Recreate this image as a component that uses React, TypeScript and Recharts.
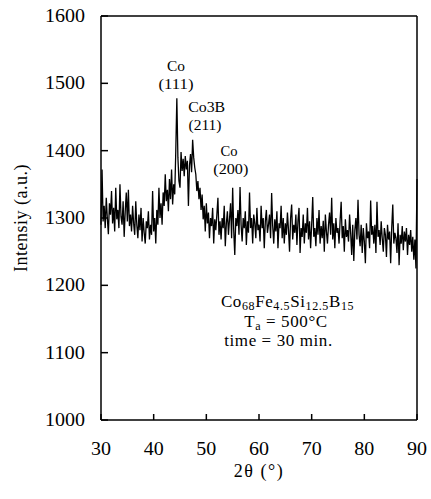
import React from "react";
import { LineChart, Line, XAxis, YAxis, ReferenceLine, ReferenceDot } from "recharts";

// XRD scan: 2θ from 30° to 90°, step 0.2°
const ANGLE_START = 30;
const ANGLE_STEP = 0.2;

const INTENSITY = [
  1290, 1372, 1295, 1318, 1285, // 30
  1330, 1300, 1276, 1322, 1305, // 31
  1340, 1292, 1315, 1280, 1345, // 32
  1298, 1312, 1285, 1350, 1302, // 33
  1290, 1325, 1272, 1310, 1338, // 34
  1295, 1342, 1288, 1305, 1280, // 35
  1318, 1292, 1275, 1325, 1290, // 36
  1270, 1305, 1282, 1315, 1265, // 37
  1300, 1278, 1262, 1295, 1285, // 38
  1310, 1268, 1290, 1275, 1340, // 39
  1280, 1300, 1262, 1312, 1290, // 40
  1345, 1300, 1322, 1290, 1338, // 41
  1318, 1365, 1325, 1342, 1310, // 42
  1358, 1328, 1372, 1320, 1350, // 43
  1335, 1400, 1478, 1390, 1355, // 44
  1345, 1398, 1370, 1388, 1362, // 45
  1392, 1372, 1385, 1318, 1378, // 46
  1395, 1368, 1416, 1390, 1375, // 47
  1365, 1340, 1355, 1328, 1345, // 48
  1312, 1335, 1298, 1318, 1280, // 49
  1322, 1292, 1308, 1270, 1300, // 50
  1288, 1315, 1262, 1298, 1282, // 51
  1305, 1330, 1275, 1295, 1268, // 52
  1300, 1285, 1318, 1258, 1292, // 53
  1310, 1275, 1298, 1322, 1270, // 54
  1345, 1282, 1245, 1300, 1288, // 55
  1312, 1275, 1346, 1290, 1265, // 56
  1300, 1285, 1310, 1260, 1295, // 57
  1278, 1338, 1285, 1300, 1262, // 58
  1305, 1292, 1270, 1315, 1282, // 59
  1290, 1265, 1318, 1285, 1300, // 60
  1255, 1295, 1312, 1278, 1290, // 61
  1305, 1270, 1337, 1288, 1262, // 62
  1298, 1280, 1310, 1255, 1292, // 63
  1285, 1318, 1270, 1300, 1262, // 64
  1292, 1275, 1308, 1282, 1250, // 65
  1300, 1320, 1268, 1290, 1278, // 66
  1305, 1260, 1296, 1315, 1248, // 67
  1285, 1272, 1305, 1262, 1292, // 68
  1278, 1315, 1268, 1295, 1255, // 69
  1290, 1331, 1272, 1285, 1258, // 70
  1300, 1275, 1312, 1262, 1288, // 71
  1270, 1296, 1250, 1305, 1280, // 72
  1262, 1290, 1308, 1275, 1330, // 73
  1268, 1292, 1255, 1300, 1278, // 74
  1285, 1262, 1296, 1324, 1270, // 75
  1288, 1250, 1298, 1272, 1282, // 76
  1265, 1305, 1278, 1245, 1290, // 77
  1236, 1282, 1300, 1268, 1327, // 78
  1275, 1258, 1290, 1248, 1285, // 79
  1265, 1233, 1292, 1270, 1280, // 80
  1255, 1326, 1275, 1288, 1262, // 81
  1290, 1248, 1324, 1272, 1282, // 82
  1260, 1295, 1270, 1250, 1285, // 83
  1275, 1242, 1290, 1268, 1280, // 84
  1233, 1285, 1320, 1262, 1278, // 85
  1270, 1248, 1292, 1230, 1275, // 86
  1262, 1288, 1252, 1280, 1265, // 87
  1285, 1245, 1275, 1260, 1282, // 88
  1250, 1272, 1238, 1268, 1225, // 89
  1358, // 90
];

const X_TICKS = [30, 40, 50, 60, 70, 80, 90];
const Y_TICKS = [1000, 1100, 1200, 1300, 1400, 1500, 1600];

// peak annotations: [2θ, intensity, text]
const PEAK_LABELS: [number, number, string][] = [
  [44.24, 1526, "Co"],
  [44.24, 1499, "(111)"],
  [50.06, 1465, "Co3B"],
  [49.75, 1438, "(211)"],
  [54.3, 1400, "Co"],
  [54.64, 1373, "(200)"],
];
const PEAK_LABEL_WIDTHS = [18, 35, 37, 33, 17, 35];

// sample info block: [2θ, intensity] of each line centre
const INFO_POS: [number, number][] = [
  [65.41, 1175],
  [65.13, 1146],
  [63.7, 1117],
];

const data = INTENSITY.map((v, i) => ({ angle: ANGLE_START + i * ANGLE_STEP, intensity: v }));

const FONT = '"Liberation Serif", "Times New Roman", Times, serif';

const XTick = (props: any) => {
  const { x, y, payload } = props;
  const s = String(payload.value);
  return (
    <g>
      <line x1={x} y1={y} x2={x} y2={y - 6} stroke="#000" strokeWidth={1.5} />
      <text x={x} y={y + 35} textAnchor="middle" textLength={s.length * 10} lengthAdjust="spacingAndGlyphs" style={{ fontFamily: FONT, fontSize: 18 }} fill="#000">
        {s}
      </text>
    </g>
  );
};

const YTick = (props: any) => {
  const { x, y, payload } = props;
  const s = String(payload.value);
  return (
    <g>
      <line x1={x} y1={y} x2={x + 7} y2={y} stroke="#000" strokeWidth={1.5} />
      <text x={x - 16} y={y + 6} textAnchor="end" textLength={s.length * 10} lengthAdjust="spacingAndGlyphs" style={{ fontFamily: FONT, fontSize: 18 }} fill="#000">
        {s}
      </text>
    </g>
  );
};

const labelShape = (txt: string, w: number) => (p: any) => (
  <text x={p.cx} y={p.cy + 5} textAnchor="middle" textLength={w} lengthAdjust="spacingAndGlyphs" style={{ fontFamily: FONT, fontSize: 14 }} fill="#000">
    {txt}
  </text>
);

const infoShape = (line: number) => (p: any) => {
  const common = {
    x: p.cx,
    y: p.cy + 5,
    textAnchor: "middle" as const,
    fill: "#000",
    style: { fontFamily: FONT, fontSize: 17, letterSpacing: 0.6 },
  };
  if (line === 0) {
    return (
      <text {...common}>
        Co<tspan style={{ fontSize: 12 }} dy={3}>68</tspan>
        <tspan dy={-3}>Fe</tspan><tspan style={{ fontSize: 12 }} dy={3}>4.5</tspan>
        <tspan dy={-3}>Si</tspan><tspan style={{ fontSize: 12 }} dy={3}>12.5</tspan>
        <tspan dy={-3}>B</tspan><tspan style={{ fontSize: 12 }} dy={3}>15</tspan>
      </text>
    );
  }
  if (line === 1) {
    return (
      <text {...common}>
        T<tspan style={{ fontSize: 12 }} dy={3}>a</tspan><tspan dy={-3}> = 500°C</tspan>
      </text>
    );
  }
  return <text {...common}>time = 30 min.</text>;
};

export default function App() {
  return (
    <div style={{ position: "absolute", left: 0, top: 0, width: 431, height: 499, background: "#fff" }}>
      <LineChart width={431} height={499} data={data} margin={{ top: 16, right: 14, left: 0, bottom: 0 }}>
        <XAxis
          dataKey="angle"
          type="number"
          domain={[30, 90]}
          ticks={X_TICKS}
          height={79}
          tickSize={0}
          tickMargin={0}
          tickLine={false}
          tick={XTick}
          axisLine={{ stroke: "#000", strokeWidth: 1.5 }}
          label={{ value: "2θ (°)", position: "insideBottom", offset: 22, fill: "#000", style: { fontFamily: FONT, fontSize: 18, letterSpacing: 1.5 } }}
        />
        <YAxis
          type="number"
          domain={[1000, 1600]}
          ticks={Y_TICKS}
          width={101}
          tickSize={0}
          tickMargin={0}
          tickLine={false}
          tick={YTick}
          axisLine={{ stroke: "#000", strokeWidth: 1.5 }}
          label={{ value: "Intensiy (a.u.)", angle: -90, position: "insideLeft", offset: 21, fill: "#000", style: { textAnchor: "middle", fontFamily: FONT, fontSize: 18, letterSpacing: 0.5 } }}
        />
        <ReferenceLine x={90} stroke="#000" strokeWidth={1.5} />
        <ReferenceLine y={1600} stroke="#000" strokeWidth={1.5} />
        <Line type="linear" dataKey="intensity" stroke="#000" strokeWidth={1.3} dot={false} isAnimationActive={false} />
        {PEAK_LABELS.map(([a, v, t], i) => (
          <ReferenceDot key={"p" + i} x={a} y={v} r={0} shape={labelShape(t, PEAK_LABEL_WIDTHS[i])} />
        ))}
        {INFO_POS.map(([a, v], i) => (
          <ReferenceDot key={"i" + i} x={a} y={v} r={0} shape={infoShape(i)} />
        ))}
      </LineChart>
    </div>
  );
}
